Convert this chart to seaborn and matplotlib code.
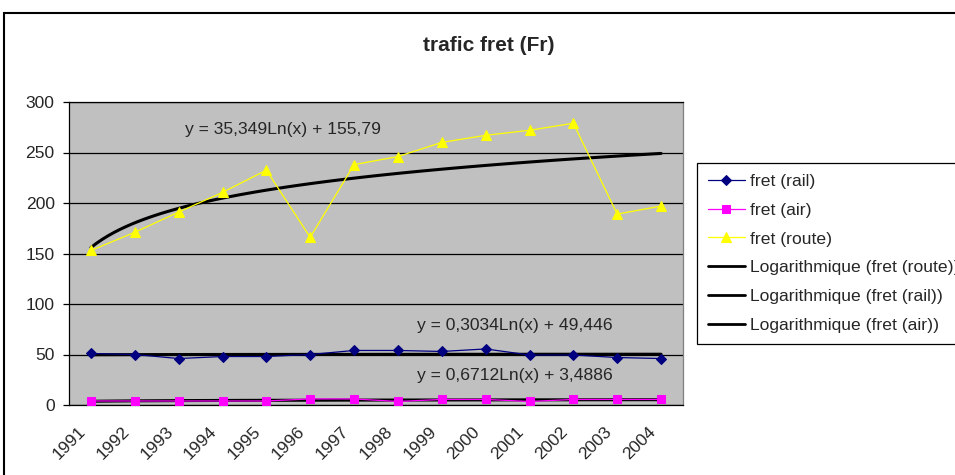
import numpy as np
import seaborn as sns
import matplotlib.pyplot as plt
from matplotlib.patches import Rectangle

# Data
YEARS = ["1991", "1992", "1993", "1994", "1995", "1996", "1997",
         "1998", "1999", "2000", "2001", "2002", "2003", "2004"]
FRET_RAIL = [51, 50, 46, 48, 48, 50, 54, 54, 53, 55.5, 49.5, 49.5, 47, 46]
FRET_AIR = [4, 4, 4, 4, 4, 6, 6, 3.5, 5.5, 5.5, 3.5, 5.5, 5.5, 5.5]
FRET_ROUTE = [153, 171, 191, 210.5, 232.5, 166, 238, 246, 260, 267, 272, 279, 189, 197]
EQ_ROUTE = "y = 35,349Ln(x) + 155,79"
EQ_RAIL = "y = 0,3034Ln(x) + 49,446"
EQ_AIR = "y = 0,6712Ln(x) + 3,4886"
TITLE = "trafic fret (Fr)"

if __name__ == "__main__":
    sns.set_style("white")
    plt.rcParams["font.family"] = ["Liberation Sans", "DejaVu Sans"]
    FS = 12.6

    X = np.arange(1, len(YEARS) + 1)

    fig = plt.figure(figsize=(9.55, 4.75), dpi=100)
    ax = fig.add_axes([69 / 955, 70 / 475, 614 / 955, 303 / 475])
    ax.set_facecolor("#C0C0C0")

    # Series
    sns.lineplot(x=X, y=FRET_RAIL, ax=ax, color="#000080", marker="D", markersize=5.5,
                 markeredgecolor="#000080", lw=0.9, label="fret (rail)", zorder=5)
    sns.lineplot(x=X, y=FRET_AIR, ax=ax, color="#FF00FF", marker="s", markersize=6,
                 markeredgecolor="#FF00FF", lw=0.9, label="fret (air)", zorder=5)
    sns.lineplot(x=X, y=FRET_ROUTE, ax=ax, color="#FFFF00", marker="^", markersize=7.5,
                 markeredgecolor="#FFFF00", lw=0.9, label="fret (route)", zorder=5)

    # Logarithmic trendlines
    trend_kws = dict(color="black", lw=2.2, zorder=4)
    sns.regplot(x=X, y=FRET_ROUTE, ax=ax, logx=True, ci=None, scatter=False,
                label="Logarithmique (fret (route))", line_kws=trend_kws)
    sns.regplot(x=X, y=FRET_RAIL, ax=ax, logx=True, ci=None, scatter=False,
                label="Logarithmique (fret (rail))", line_kws=trend_kws)
    sns.regplot(x=X, y=FRET_AIR, ax=ax, logx=True, ci=None, scatter=False,
                label="Logarithmique (fret (air))", line_kws=trend_kws)

    ax.text(0.189, 0.908, EQ_ROUTE, transform=ax.transAxes, fontsize=FS, ha="left", va="center")
    ax.text(0.566, 0.264, EQ_RAIL, transform=ax.transAxes, fontsize=FS, ha="left", va="center")
    ax.text(0.566, 0.099, EQ_AIR, transform=ax.transAxes, fontsize=FS, ha="left", va="center")

    # Axes
    ax.set_xlim(0.5, len(YEARS) + 0.5)
    ax.set_ylim(0, 300)
    ax.set_yticks(np.arange(0, 301, 50))
    ax.yaxis.grid(True, color="black", lw=0.9)
    ax.xaxis.grid(False)
    ax.set_axisbelow(True)
    ax.set_xlabel("")
    ax.set_ylabel("")

    ax.set_xticks(X - 0.18)
    ax.set_xticklabels(YEARS, rotation=45, ha="right", va="center",
                       rotation_mode="anchor", fontsize=FS)
    ax.set_xticks(np.arange(0.5, len(YEARS) + 1), minor=True)
    ax.tick_params(axis="x", which="major", length=0, pad=17.5)
    ax.tick_params(axis="x", which="minor", length=4.3, width=0.9, color="black", direction="out")
    ax.tick_params(axis="y", length=4.3, width=0.9, color="black", direction="out",
                   labelsize=FS, pad=6, left=True)

    for side in ["left", "bottom", "top"]:
        ax.spines[side].set_color("black")
        ax.spines[side].set_linewidth(0.9)
    ax.spines["right"].set_color("#808080")
    ax.spines["right"].set_linewidth(0.9)

    # Legend (cut at the right edge, as in the reference)
    handles, labels = ax.get_legend_handles_labels()
    lookup = dict(zip(labels, handles))
    order = ["fret (rail)", "fret (air)", "fret (route)",
             "Logarithmique (fret (route))", "Logarithmique (fret (rail))",
             "Logarithmique (fret (air))"]
    leg = ax.legend([lookup[k] for k in order], order, loc="upper left",
                    bbox_to_anchor=(697 / 955, 1 - 163 / 475), bbox_transform=fig.transFigure,
                    borderaxespad=0, fontsize=FS, frameon=True, fancybox=False,
                    framealpha=1, edgecolor="black", handlelength=2.1,
                    handletextpad=0.3, labelspacing=0.77, borderpad=0.62)
    leg.get_frame().set_linewidth(0.9)
    for h in leg.legend_handles[3:]:
        h.set_linewidth(2)

    # Title and chart border
    fig.text(489 / 955, 1 - 45.8 / 475, TITLE, ha="center", va="center",
             fontsize=15, fontweight="bold")
    fig.add_artist(Rectangle((4 / 955, -0.1), 1.2, 1.1 - 12.5 / 475, fill=False,
                             lw=1.5, edgecolor="black", transform=fig.transFigure,
                             clip_on=False))

    plt.savefig("out.png", dpi=100)
